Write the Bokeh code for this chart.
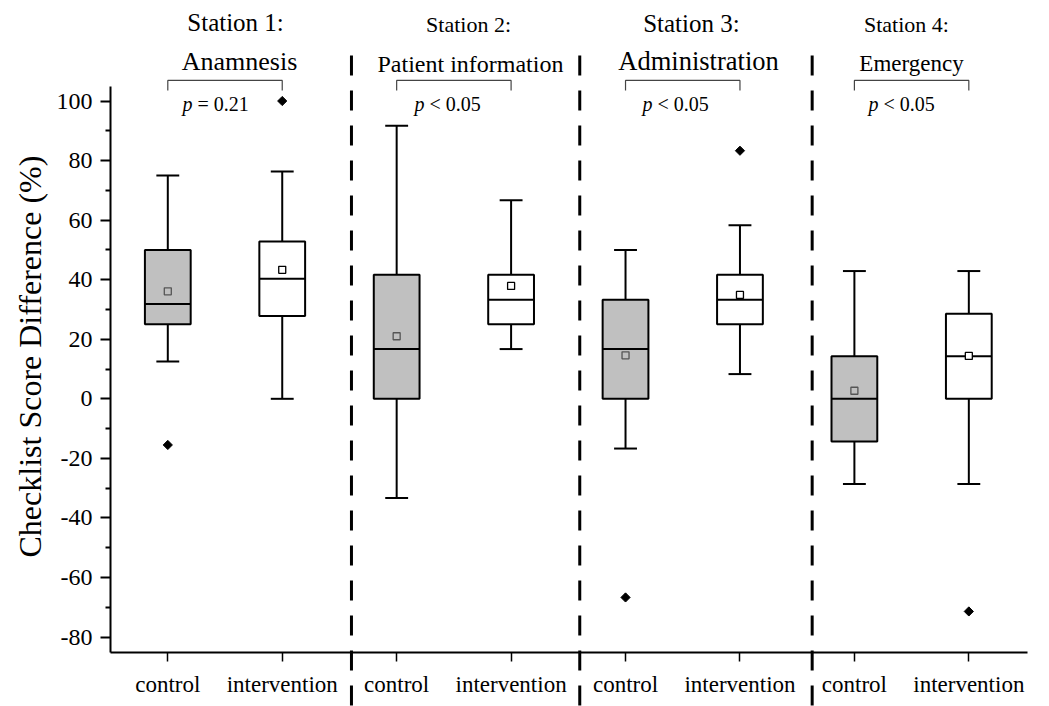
import numpy as np
from bokeh.plotting import figure
from bokeh.models import Range1d, FixedTicker
from bokeh.core.properties import value
from bokeh.embed import file_html
from bokeh.resources import INLINE

# ---------------- data ----------------
station_titles = ["Station 1:", "Station 2:", "Station 3:", "Station 4:"]
station_names = ["Anamnesis", "Patient information", "Administration", "Emergency"]
p_labels = ["= 0.21", "< 0.05", "< 0.05", "< 0.05"]
group_labels = ["control", "intervention"] * 4

whisker_high = [75.0, 76.3, 91.7, 66.7, 50.0, 58.3, 42.9, 42.9]
q3_values = [50.0, 52.8, 41.7, 41.7, 33.3, 41.7, 14.3, 28.6]
median_values = [31.8, 40.3, 16.7, 33.3, 16.7, 33.3, 0.0, 14.3]
q1_values = [25.0, 27.8, 0.0, 25.0, 0.0, 25.0, -14.3, 0.0]
whisker_low = [12.5, 0.0, -33.3, 16.7, -16.7, 8.3, -28.6, -28.6]
mean_values = [36.1, 43.3, 21.0, 37.9, 14.6, 34.9, 2.7, 14.4]

outlier_box = [0, 1, 4, 5, 7]
outlier_values = [-15.5, 100.0, -66.7, 83.3, -71.4]

y_ticks = [-80, -60, -40, -20, 0, 20, 40, 60, 80, 100]
y_tick_labels = ["-80", "-60", "-40", "-20", "0", "20", "40", "60", "80", "100"]
y_minor_ticks = [-70, -50, -30, -10, 10, 30, 50, 70, 90]
y_label = "Checklist Score Difference (%)"

# ---------------- layout / styles ----------------
FONT_NAME = "'Liberation Serif', serif"
FONT = value(FONT_NAME)
xs = np.arange(len(group_labels), dtype=float)
fills = ["#c0c0c0" if g == "control" else "white" for g in group_labels]
mean_lines = ["#555555" if g == "control" else "black" for g in group_labels]

W, H = 1049, 706
p = figure(width=W, height=H, x_range=Range1d(-1.462, 7.705),
           y_range=Range1d(-103.32, 133.75), output_backend="svg",
           toolbar_location=None, title=None, min_border=0)
p.min_border_left = p.min_border_right = p.min_border_top = p.min_border_bottom = 0
p.outline_line_color = None
p.background_fill_color = "white"
p.border_fill_color = "white"
p.grid.visible = False

# axes
xa = p.xaxis[0]
xa.fixed_location = -85.1
xa.bounds = (-0.5, 7.51)
xa.ticker = FixedTicker(ticks=list(xs), minor_ticks=[])
xa.major_label_overrides = {float(i): lab for i, lab in zip(xs, group_labels)}
xa.major_label_text_font = FONT_NAME
xa.major_label_text_font_size = "23px"
xa.major_label_text_color = "black"
xa.major_label_standoff = 11
xa.axis_line_width = 2
xa.axis_line_color = "black"
xa.major_tick_line_width = 1.5
xa.major_tick_out = 9
xa.major_tick_in = 0
xa.minor_tick_line_color = None

ya = p.yaxis[0]
ya.fixed_location = -0.5
ya.bounds = (-85.1, 105)
ya.ticker = FixedTicker(ticks=y_ticks, minor_ticks=y_minor_ticks)
ya.major_label_overrides = {float(t): lab for t, lab in zip(y_ticks, y_tick_labels)}
ya.major_label_text_font = FONT_NAME
ya.major_label_text_font_size = "24px"
ya.major_label_text_color = "black"
ya.major_label_standoff = 8
ya.axis_line_width = 2
ya.axis_line_color = "black"
ya.major_tick_line_width = 2
ya.major_tick_out = 10
ya.major_tick_in = 0
ya.minor_tick_line_width = 2
ya.minor_tick_out = 5
ya.minor_tick_in = 0

# station separators
sep_x = [1.605, 3.600, 5.631]
p.segment(x0=sep_x, y0=[115.3] * 3, x1=sep_x, y1=[-110] * 3,
          line_color="black", line_width=3, line_dash="20 15")

# whiskers
p.segment(x0=xs, y0=q3_values, x1=xs, y1=whisker_high, line_color="black", line_width=2)
p.segment(x0=xs, y0=q1_values, x1=xs, y1=whisker_low, line_color="black", line_width=2)
p.segment(x0=xs - 0.1, y0=whisker_high, x1=xs + 0.1, y1=whisker_high, line_color="black", line_width=2)
p.segment(x0=xs - 0.1, y0=whisker_low, x1=xs + 0.1, y1=whisker_low, line_color="black", line_width=2)

# boxes
p.vbar(x=xs, width=0.4, bottom=q1_values, top=q3_values, fill_color=fills,
       line_color="black", line_width=2)
p.segment(x0=xs - 0.2, y0=median_values, x1=xs + 0.2, y1=median_values,
          line_color="black", line_width=2)

# means
p.scatter(x=xs, y=mean_values, marker="square", size=7, fill_color=fills,
          line_color=mean_lines, line_width=1.3)

# outliers
p.scatter(x=[xs[i] for i in outlier_box], y=outlier_values, marker="square",
          angle=np.pi / 4, size=6.5, fill_color="black", line_color="black")

# brackets
bx, by = [], []
for s in range(4):
    a, b = xs[2 * s], xs[2 * s + 1]
    bx.append([a, a, b, b])
    by.append([103.5, 106.9, 106.9, 103.5])
p.multi_line(xs=bx, ys=by, line_color="#444444", line_width=1.2)

# station titles
p.text(x=[0.592, 2.628, 4.576, 6.455], y=[126.4, 125.7, 126.1, 125.7],
       text=station_titles, text_font=FONT,
       text_font_size=["25px", "22px", "25px", "22px"],
       text_align="center", text_baseline="alphabetic", text_color="black")
p.text(x=[0.627, 2.645, 4.638, 6.499], y=[113.4, 112.4, 113.5, 112.6],
       text=station_names, text_font=FONT,
       text_font_size=["26px", "24px", "26.5px", "23px"],
       text_align="center", text_baseline="alphabetic", text_color="black")

# p values
p_x = [0.128, 2.156, 4.148, 6.123]
p.text(x=p_x, y=[98.9] * 4, text=["p"] * 4, text_font=FONT, text_font_style="italic",
       text_font_size="20px", text_align="left", text_baseline="alphabetic", text_color="black")
p.text(x=p_x, y=[98.9] * 4, text=p_labels, text_font=FONT, x_offset=15,
       text_font_size="20px", text_align="left", text_baseline="alphabetic", text_color="black")

# y axis title
p.text(x=[-1.205], y=[14.2], text=[y_label], angle=np.pi / 2, text_font=FONT,
       text_font_size="32px", text_align="center", text_baseline="alphabetic",
       text_color="black")

open("out.html", "w").write(file_html(p, INLINE))
